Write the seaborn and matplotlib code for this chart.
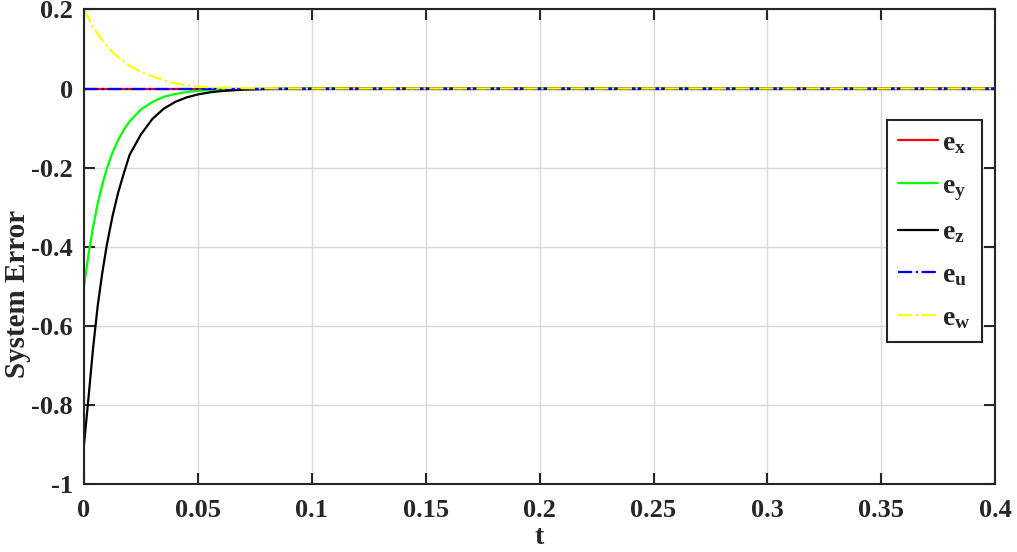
import numpy as np
import pandas as pd
import matplotlib
matplotlib.use('Agg')
import matplotlib.pyplot as plt
from matplotlib.ticker import FuncFormatter
import seaborn as sns

# time samples (dense near t=0 where the curves move)
t = [0, 0.002, 0.004, 0.006, 0.008, 0.010, 0.0125, 0.015, 0.0175, 0.02,
     0.025, 0.03, 0.035, 0.04, 0.045, 0.05, 0.055, 0.06, 0.07, 0.08,
     0.09, 0.1, 0.15, 0.2, 0.25, 0.3, 0.35, 0.4]

e_x = [0.0] * len(t)
e_y = [-0.5, -0.418, -0.349, -0.291, -0.243, -0.203, -0.162, -0.130, -0.104, -0.083,
       -0.053, -0.034, -0.021, -0.014, -0.009, -0.006, -0.0035, -0.0023, -0.001, -0.0004,
       0, 0, 0, 0, 0, 0, 0, 0]
e_z = [-0.9, -0.78, -0.655, -0.55, -0.467, -0.396, -0.323, -0.263, -0.214, -0.168,
       -0.116, -0.077, -0.051, -0.034, -0.0225, -0.015, -0.0099, -0.0066, -0.0029, -0.0013,
       -0.0006, -0.0002, 0, 0, 0, 0, 0, 0]
e_u = [0.0] * len(t)
e_w = [0.2, 0.177, 0.156, 0.138, 0.122, 0.108, 0.092, 0.079, 0.068, 0.058,
       0.042, 0.031, 0.021, 0.013, 0.008, 0.005, 0.003, 0.002, 0.001, 0.0004,
       0.0001, 0, 0, 0, 0, 0, 0, 0]

labels = [r'$\mathbf{e_x}$', r'$\mathbf{e_y}$', r'$\mathbf{e_z}$', r'$\mathbf{e_u}$', r'$\mathbf{e_w}$']
colors = ['#ff0000', '#00ff00', '#000000', '#0000ff', '#ffff00']
styles = ['-', '-', '-', '-.', '-.']

x_ticks = [0, 0.05, 0.1, 0.15, 0.2, 0.25, 0.3, 0.35, 0.4]
y_ticks = [-1, -0.8, -0.6, -0.4, -0.2, 0, 0.2]

sns.set_theme(style="ticks")
plt.rcParams['font.family'] = ['Liberation Serif', 'DejaVu Serif']
plt.rcParams['font.weight'] = 'bold'
plt.rcParams['mathtext.fontset'] = 'custom'
plt.rcParams['mathtext.rm'] = 'Liberation Serif'
plt.rcParams['mathtext.bf'] = 'Liberation Serif:bold'

fig = plt.figure(figsize=(10.17, 5.52), dpi=100)
ax = fig.add_axes([0.0826, 0.123, 0.896, 0.860])

df = pd.DataFrame({'t': t, 'ex': e_x, 'ey': e_y, 'ez': e_z, 'eu': e_u, 'ew': e_w})
for col, lab, c, ls in zip(['ex', 'ey', 'ez', 'eu', 'ew'], labels, colors, styles):
    sns.lineplot(data=df, x='t', y=col, color=c, linestyle=ls, linewidth=1.6,
                 label=lab, ax=ax)

ax.set_xlim(0, 0.4)
ax.set_ylim(-1, 0.2)
ax.set_xticks(x_ticks)
ax.set_yticks(y_ticks)
fmt = FuncFormatter(lambda v, p: '%g' % round(v, 4))
ax.xaxis.set_major_formatter(fmt)
ax.yaxis.set_major_formatter(fmt)
ax.grid(True, color='#d9d9d9', linewidth=1.0)
ax.tick_params(direction='in', length=8, width=1.5, top=True, right=True,
               labelsize=19, color='#262626', labelcolor='#262626')
ax.tick_params(axis='x', pad=11)
ax.tick_params(axis='y', pad=8)
for s in ax.spines.values():
    s.set_linewidth(1.5)
    s.set_color('#262626')
    s.set_visible(True)

ax.set_xlabel('t', fontsize=20, fontweight='bold', color='#262626', labelpad=2)
ax.set_ylabel('System Error', fontsize=21, fontweight='bold', color='#262626')
ax.yaxis.set_label_coords(-0.058, 0.40)

leg = ax.legend(loc='upper left', bbox_to_anchor=(0.881, 0.768), borderaxespad=0,
                fontsize=20, handlelength=1.45, labelspacing=0.62, handletextpad=0.15,
                fancybox=False, framealpha=1, edgecolor='#262626', borderpad=0.4)
leg.get_frame().set_linewidth(1.5)

fig.savefig('out.png', dpi=100)
